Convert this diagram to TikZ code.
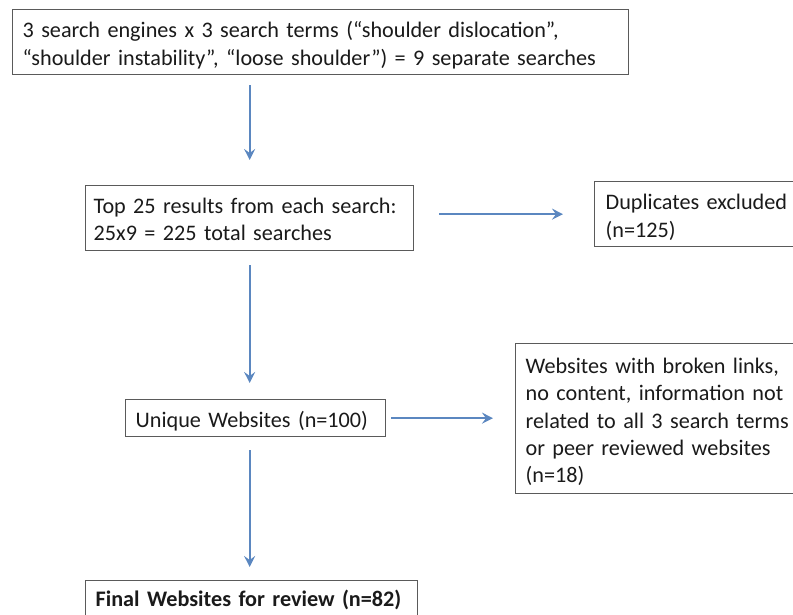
\documentclass[tikz,border=0pt]{standalone}
\usepackage{fontspec}
\setmainfont{Carlito}
\usetikzlibrary{arrows.meta}
\definecolor{arrblue}{HTML}{5B87C0}
\definecolor{boxgray}{HTML}{5A5A5A}
\definecolor{txt}{HTML}{1A1A1A}
\newcommand{\topstrut}[1]{\rule{0pt}{#1}}
\newcommand{\botstrut}[1]{\rule[-#1]{0pt}{#1}}
\begin{document}
\begin{tikzpicture}[x=1pt,y=-1pt,
  box/.style={draw=boxgray, line width=1.3pt, anchor=north west, align=left,
    inner xsep=10pt, inner ysep=0pt, text=txt},
  lead/.style={font=\fontsize{22.2}{#1}\selectfont},
  arr/.style={draw=arrblue, line width=2.2pt,
    -{Stealth[length=11pt,width=11pt,inset=4pt]}}]
\useasboundingbox (0,0) rectangle (793,615);
\node[box, lead=28pt, text width=596pt] (b1) at (12,9)
  {\topstrut{28pt}3 search engines x 3 search terms (“shoulder dislocation”,\\“shoulder instability”, “loose shoulder”) = 9 separate searches\botstrut{9pt}};
\node[box, lead=27pt, text width=312pt, inner xsep=8pt] (b2) at (85,185)
  {\topstrut{28pt}Top 25 results from each search:\\25x9 = 225 total searches\botstrut{10pt}};
\node[box, lead=28pt, text width=190pt, inner xsep=11pt] (b3) at (594,181)
  {\topstrut{28pt}Duplicates excluded\\(n=125)\botstrut{9pt}};
\node[box, lead=28pt, text width=240pt] (b4) at (125,399)
  {\topstrut{28pt}Unique Websites (n=100)\botstrut{9pt}};
\node[box, lead=27.25pt, text width=275pt] (b5) at (515,343)
  {\topstrut{30pt}Websites with broken links,\\no content, information not\\related to all 3 search terms\\or peer reviewed websites\\(n=18)\botstrut{11pt}};
\node[box, lead=28pt, text width=312pt] (b6) at (85,580)
  {\topstrut{26pt}\bfseries Final Websites for review (n=82)\botstrut{20pt}};
\draw[arr, shorten <=10pt, shorten >=25pt] (b1.south -| b2.north) -- (b2.north);
\draw[arr, shorten <=25pt, shorten >=31pt] (b2.east |- b3.west) -- (b3.west);
\draw[arr, shorten <=14pt, shorten >=16pt] (b2.south) -- (b4.north -| b2.south);
\draw[arr, shorten <=5pt, shorten >=22pt] (b4.east) -- (b4.east -| b5.west);
\draw[arr, shorten <=13pt, shorten >=13pt] (b4.south -| b2.south) -- (b6.north -| b2.south);
\end{tikzpicture}
\end{document}
